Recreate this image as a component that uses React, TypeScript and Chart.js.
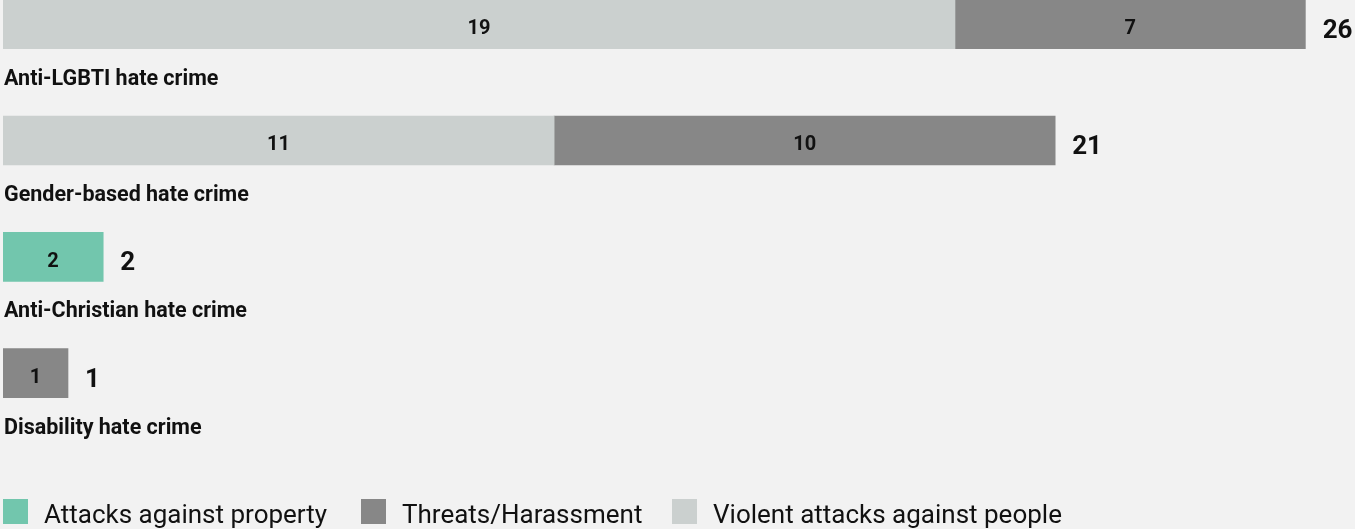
import React, { useEffect, useRef } from "react";
import { Chart, registerables } from "chart.js";

Chart.register(...registerables);

// ---- Data ----
const categories = [
  "Anti-LGBTI hate crime",
  "Gender-based hate crime",
  "Anti-Christian hate crime",
  "Disability hate crime",
];
const violentAttacks: (number | null)[] = [19, 11, null, null];
const threatsHarassment: (number | null)[] = [7, 10, null, 1];
const propertyAttacks: (number | null)[] = [null, null, 2, null];

const legendNames = ["Attacks against property", "Threats/Harassment", "Violent attacks against people"];
const legendColors = ["#72c6ad", "#878787", "#cbd0cf"];
const legendLefts = [3, 361, 672];

const FONT = "Roboto, 'Noto Sans', sans-serif";
const TEXT = "#111111";

const labelPlugin = {
  id: "barLabels",
  afterDatasetsDraw(chart: any) {
    const ctx = chart.ctx as CanvasRenderingContext2D;
    const labels = chart.data.labels as string[];
    ctx.save();
    for (let i = 0; i < labels.length; i++) {
      let end: number | null = null;
      let yc = 0;
      let half = 24;
      let total = 0;
      chart.data.datasets.forEach((ds: any, di: number) => {
        const v = ds.data[i];
        if (v == null) return;
        const el = chart.getDatasetMeta(di).data[i];
        total += v;
        ctx.font = `bold 20px ${FONT}`;
        ctx.fillStyle = TEXT;
        ctx.textAlign = "center";
        ctx.textBaseline = "alphabetic";
        ctx.fillText(String(v), (el.x + el.base) / 2, el.y + 10);
        const right = Math.max(el.x, el.base);
        end = end == null ? right : Math.max(end, right);
        yc = el.y;
        half = el.height / 2;
      });
      if (end == null) continue;
      ctx.font = `bold 26px ${FONT}`;
      ctx.textAlign = "left";
      ctx.fillStyle = TEXT;
      ctx.fillText(String(total), end + 17, yc + 13.4);
      ctx.font = `bold 21.5px ${FONT}`;
      ctx.fillText(labels[i], 4, yc + half + 36);
    }
    ctx.restore();
  },
};

export default function App() {
  const canvasRef = useRef<HTMLCanvasElement | null>(null);

  useEffect(() => {
    document.body.style.margin = "0";
    document.body.style.background = "#f2f2f2";
    const canvas = canvasRef.current;
    if (!canvas) return;
    const chart = new Chart(canvas, {
      type: "bar",
      data: {
        labels: categories,
        datasets: [
          {
            label: legendNames[2],
            data: violentAttacks,
            backgroundColor: legendColors[2],
            minBarLength: 65,
          },
          {
            label: legendNames[1],
            data: threatsHarassment,
            backgroundColor: legendColors[1],
            minBarLength: 65,
          },
          {
            label: legendNames[0],
            data: propertyAttacks,
            backgroundColor: legendColors[0],
            minBarLength: 65,
          },
        ],
      },
      options: {
        indexAxis: "y",
        responsive: false,
        animation: false,
        devicePixelRatio: 1,
        datasets: { bar: { barThickness: 49, borderWidth: 0 } },
        layout: { padding: { left: 3, right: 49.3, top: 0, bottom: 97.7 } },
        scales: {
          x: { type: "linear", stacked: true, min: 0, max: 26, display: false, grid: { display: false } },
          y: { type: "category", stacked: true, display: false, grid: { display: false } },
        },
        plugins: {
          legend: { display: false },
          tooltip: { enabled: false },
          title: { display: false },
        },
      },
      plugins: [labelPlugin],
    });
    return () => chart.destroy();
  }, []);

  return (
    <div
      style={{
        position: "absolute",
        left: 0,
        top: 0,
        width: 1355,
        height: 529,
        overflow: "hidden",
        background: "#f2f2f2",
        fontFamily: FONT,
      }}
    >
      <canvas
        ref={canvasRef}
        width={1355}
        height={563}
        style={{ position: "absolute", left: 0, top: -34, width: 1355, height: 563 }}
      />
      {legendNames.map((name, k) => (
        <div key={name}>
          <div
            style={{
              position: "absolute",
              left: legendLefts[k],
              top: 499,
              width: 25,
              height: 25,
              background: legendColors[k],
            }}
          />
          <div
            style={{
              position: "absolute",
              left: legendLefts[k] + 41,
              top: 499,
              fontSize: 26,
              lineHeight: "30px",
              color: TEXT,
              whiteSpace: "nowrap",
            }}
          >
            {name}
          </div>
        </div>
      ))}
    </div>
  );
}
